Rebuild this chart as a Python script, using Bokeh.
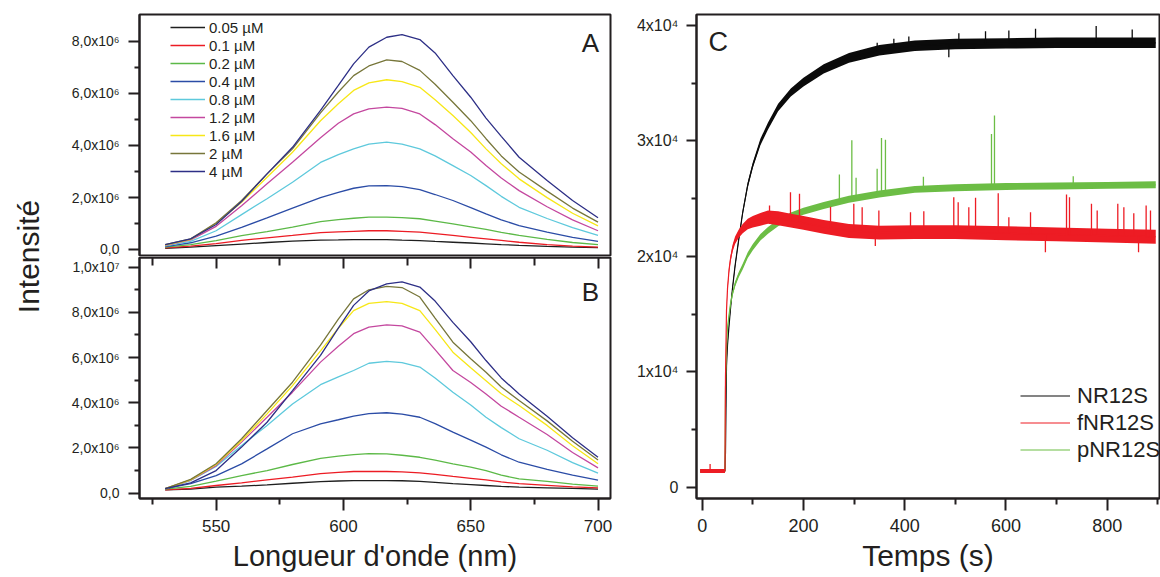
import numpy as np
from bokeh.plotting import figure
from bokeh.models import Range1d, FixedTicker, LinearAxis, Legend, LegendItem, Label
from bokeh.layouts import row, column
from bokeh.embed import file_html
from bokeh.resources import INLINE

FONT = "Liberation Sans"
INK = "#231f20"

# ---------------- data: emission spectra (intensity in units of 1e6) ----------------
concentrations = ["0.05 µM", "0.1 µM", "0.2 µM", "0.4 µM", "0.8 µM", "1.2 µM", "1.6 µM", "2 µM", "4 µM"]
wavelength_nm = [530, 540, 550, 560, 570, 580, 591, 598, 604, 610, 617, 623, 630, 636, 643, 650, 656, 662, 669, 680, 690, 700]

a_005 = [0.06, 0.10, 0.16, 0.22, 0.28, 0.33, 0.37, 0.38, 0.39, 0.39, 0.39, 0.37, 0.35, 0.32, 0.29, 0.26, 0.23, 0.20, 0.17, 0.13, 0.10, 0.08]
a_01 = [0.07, 0.14, 0.24, 0.36, 0.46, 0.55, 0.66, 0.69, 0.71, 0.73, 0.73, 0.71, 0.68, 0.62, 0.55, 0.48, 0.42, 0.36, 0.29, 0.20, 0.14, 0.10]
a_02 = [0.10, 0.20, 0.35, 0.54, 0.70, 0.87, 1.08, 1.16, 1.21, 1.25, 1.25, 1.23, 1.19, 1.10, 0.99, 0.88, 0.78, 0.67, 0.55, 0.40, 0.28, 0.20]
a_04 = [0.12, 0.27, 0.52, 0.86, 1.22, 1.60, 2.00, 2.20, 2.36, 2.45, 2.46, 2.42, 2.31, 2.12, 1.89, 1.62, 1.38, 1.15, 0.93, 0.68, 0.48, 0.32]
a_08 = [0.15, 0.32, 0.73, 1.35, 1.96, 2.59, 3.35, 3.65, 3.87, 4.05, 4.13, 4.05, 3.87, 3.60, 3.23, 2.85, 2.46, 2.05, 1.63, 1.20, 0.85, 0.55]
a_12 = [0.17, 0.38, 0.90, 1.69, 2.53, 3.36, 4.30, 4.85, 5.21, 5.40, 5.47, 5.42, 5.21, 4.80, 4.26, 3.75, 3.23, 2.75, 2.27, 1.65, 1.15, 0.73]
a_16 = [0.18, 0.40, 1.02, 1.82, 2.78, 3.74, 4.95, 5.60, 6.11, 6.40, 6.52, 6.45, 6.23, 5.75, 5.15, 4.50, 3.87, 3.30, 2.72, 2.00, 1.40, 0.92]
a_2 = [0.20, 0.42, 1.04, 1.89, 2.91, 3.87, 5.25, 6.05, 6.68, 7.05, 7.28, 7.22, 6.88, 6.35, 5.66, 4.95, 4.26, 3.60, 2.98, 2.25, 1.60, 1.06]
a_4 = [0.20, 0.42, 0.97, 1.85, 2.91, 3.93, 5.35, 6.30, 7.13, 7.77, 8.15, 8.25, 8.06, 7.55, 6.68, 5.85, 5.05, 4.35, 3.55, 2.66, 1.89, 1.23]

b_005 = [0.15, 0.18, 0.27, 0.31, 0.37, 0.44, 0.51, 0.54, 0.56, 0.56, 0.56, 0.55, 0.52, 0.48, 0.42, 0.38, 0.34, 0.30, 0.27, 0.24, 0.21, 0.18]
b_01 = [0.15, 0.21, 0.34, 0.46, 0.59, 0.71, 0.87, 0.92, 0.96, 0.97, 0.96, 0.94, 0.90, 0.83, 0.74, 0.66, 0.59, 0.50, 0.42, 0.35, 0.28, 0.24]
b_02 = [0.18, 0.30, 0.53, 0.78, 1.00, 1.27, 1.54, 1.64, 1.71, 1.75, 1.74, 1.68, 1.59, 1.46, 1.30, 1.15, 1.00, 0.80, 0.63, 0.52, 0.40, 0.31]
b_04 = [0.20, 0.42, 0.78, 1.30, 1.96, 2.63, 3.07, 3.25, 3.41, 3.52, 3.56, 3.50, 3.36, 3.08, 2.70, 2.35, 2.04, 1.70, 1.37, 1.05, 0.80, 0.58]
b_08 = [0.20, 0.56, 1.18, 2.11, 3.00, 3.95, 4.80, 5.15, 5.43, 5.75, 5.83, 5.78, 5.58, 5.10, 4.47, 3.90, 3.36, 2.90, 2.41, 1.90, 1.35, 0.89]
b_12 = [0.20, 0.58, 1.22, 2.26, 3.36, 4.47, 5.80, 6.50, 7.06, 7.35, 7.45, 7.40, 7.13, 6.35, 5.43, 4.90, 4.39, 3.85, 3.36, 2.60, 1.80, 1.12]
b_16 = [0.20, 0.59, 1.27, 2.33, 3.51, 4.76, 6.30, 7.30, 8.08, 8.40, 8.48, 8.40, 8.08, 7.25, 6.24, 5.55, 4.98, 4.40, 3.88, 3.00, 2.10, 1.30]
b_2 = [0.20, 0.61, 1.30, 2.41, 3.66, 4.91, 6.55, 7.70, 8.60, 9.00, 9.15, 9.10, 8.68, 7.75, 6.68, 5.95, 5.35, 4.70, 4.10, 3.20, 2.30, 1.47]
b_4 = [0.20, 0.46, 1.00, 2.04, 3.14, 4.54, 6.10, 7.30, 8.31, 8.95, 9.26, 9.35, 9.12, 8.50, 7.56, 6.70, 5.87, 5.10, 4.39, 3.40, 2.45, 1.59]

spec_colors = ["#1f1f1f", "#ec1c24", "#5cb947", "#2b4ca6", "#5ec9dc", "#c4489f", "#f7e717", "#77763a", "#2d2f86"]

a_ticks = [0, 2e6, 4e6, 6e6, 8e6]
a_tick_labels = ["0,0", "2,0x10⁶", "4,0x10⁶", "6,0x10⁶", "8,0x10⁶"]
b_ticks = [0, 2e6, 4e6, 6e6, 8e6, 1e7]
b_tick_labels = ["0,0", "2,0x10⁶", "4,0x10⁶", "6,0x10⁶", "8,0x10⁶", "1,0x10⁷"]
wl_ticks = [550, 600, 650, 700]

# ---------------- data: kinetics (panel C) ----------------
series_c = ["NR12S", "fNR12S", "pNR12S"]
colors_c = ["#0b0b0b", "#ed1c24", "#6cbd45"]
time_s = [-4, 45, 46, 48, 50, 53, 56, 60, 65, 72, 80, 90, 100, 115, 130, 150, 175, 200, 240, 290, 350, 420, 500, 600, 700, 800, 896]
nr12s = [1400, 1400, 3000, 10500, 12300, 14000, 15500, 17300, 19200, 21400, 23800, 26200, 27900, 29900, 31300, 32900, 34200, 35100, 36250, 37200, 37850, 38250, 38400, 38450, 38500, 38500, 38500]
fnr12s = [1400, 1400, 9500, 15300, 17200, 18800, 19800, 20700, 21400, 21950, 22400, 22800, 23000, 23200, 23400, 23300, 23100, 22900, 22550, 22200, 22050, 22100, 22100, 22000, 21900, 21800, 21700]
pnr12s = [1400, 1400, 8500, 12000, 13800, 14900, 15900, 16800, 17600, 18400, 19100, 20100, 20800, 21650, 22250, 22900, 23500, 23900, 24400, 24950, 25400, 25800, 25950, 26050, 26100, 26150, 26200]
# half-width of the noise band
nr12s_noise = [130, 130, 130, 150, 150, 150, 180, 180, 200, 200, 220, 250, 250, 280, 300, 320, 350, 380, 400, 420, 450, 450, 450, 450, 450, 450, 450]
fnr12s_noise = [180, 180, 200, 200, 220, 250, 280, 300, 330, 350, 400, 450, 500, 550, 580, 600, 600, 600, 600, 600, 600, 600, 600, 600, 600, 600, 600]
pnr12s_noise = [130, 130, 130, 150, 150, 170, 180, 200, 220, 230, 250, 250, 270, 280, 300, 300, 300, 300, 300, 300, 300, 300, 300, 300, 300, 300, 300]

# isolated spikes: time, level at foot, level at tip
nr12s_spike_t = [345.7, 378.6, 408.2, 487.2, 507, 559.7, 605.8, 658.5, 778.3, 849.5]
nr12s_spike_base = [37850, 38000, 38150, 38400, 38400, 38450, 38450, 38500, 38500, 38500]
nr12s_spike_tip = [38500, 38850, 39050, 37250, 39330, 39500, 39560, 39710, 39950, 39650]

fnr12s_spike_t = [15.6, 133, 174.4, 192.2, 253.5, 299.5, 316, 342, 349, 411.5, 437.8, 497, 505.7, 526.7, 540, 584.8, 605.8, 648.6, 678, 719.7, 725.6, 769, 780.3, 821, 833, 852.6, 862, 877, 885.6]
fnr12s_spike_base = [1400, 23400, 23100, 23000, 22500, 22200, 22150, 22050, 22050, 22100, 22100, 22100, 22100, 22100, 22050, 22000, 22000, 21950, 21900, 21900, 21900, 21850, 21850, 21800, 21800, 21800, 21750, 21750, 21750]
fnr12s_spike_tip = [2000, 24400, 25560, 25420, 24300, 24550, 24260, 20900, 23970, 23830, 23900, 25130, 24690, 24260, 25070, 25470, 23390, 23830, 20350, 25360, 25130, 24550, 23970, 24550, 24260, 23740, 20350, 24400, 23970]

pnr12s_spike_t = [271, 295.6, 304, 345.6, 354.2, 362, 437, 571.5, 577.4, 733]
pnr12s_spike_base = [24800, 25000, 25050, 25400, 25450, 25500, 25850, 26000, 26000, 26100]
pnr12s_spike_tip = [27100, 30050, 26800, 27600, 30250, 30100, 26900, 30600, 32200, 26950]

c_y_ticks = [0, 10000, 20000, 30000, 40000]
c_y_tick_labels = ["0", "1x10⁴", "2x10⁴", "3x10⁴", "4x10⁴"]
c_x_ticks = [0, 200, 400, 600, 800]

# ---------------- helpers ----------------
def style_axis(ax, size):
    ax.axis_line_color = INK
    ax.axis_line_width = 2
    ax.major_tick_line_color = INK
    ax.major_tick_line_width = 2
    ax.minor_tick_line_color = INK
    ax.minor_tick_line_width = 2
    ax.major_label_text_font = FONT
    ax.major_label_text_color = INK
    ax.major_label_text_font_size = size
    ax.axis_label_text_font = FONT
    ax.axis_label_text_color = INK
    ax.axis_label_text_font_style = "normal"


def base_fig(**kw):
    p = figure(output_backend="svg", toolbar_location=None, **kw)
    p.grid.visible = False
    p.outline_line_color = INK
    p.outline_line_width = 2
    p.outline_line_alpha = 1
    p.background_fill_color = "white"
    p.border_fill_color = "white"
    return p


xr = Range1d(519.9, 704.9)

# ---------------- panel A ----------------
pa = base_fig(width=572, height=256, x_range=xr, y_range=Range1d(-0.2186e6, 9.022e6),
              x_axis_location=None, min_border_left=91, min_border_right=10,
              min_border_top=14, min_border_bottom=1)
ya = pa.yaxis[0]
ya.ticker = FixedTicker(ticks=a_ticks, minor_ticks=[1e6, 3e6, 5e6, 7e6])
ya.major_label_overrides = dict(zip(a_ticks, a_tick_labels))
style_axis(ya, "14px")
ya.major_tick_out = 11
ya.major_tick_in = 0
ya.minor_tick_out = 5
ya.minor_tick_in = 0
ya.major_label_standoff = 9

wl = np.array(wavelength_nm)
items = []
for name, vals, col in zip(concentrations, [a_005, a_01, a_02, a_04, a_08, a_12, a_16, a_2, a_4], spec_colors):
    r = pa.line(wl, np.array(vals) * 1e6, line_color=col, line_width=1.3)
    items.append(LegendItem(label=name, renderers=[r]))
leg_a = Legend(items=items, location=(31, 75))
leg_a.glyph_width = 35
leg_a.glyph_height = 18
leg_a.label_height = 18
leg_a.spacing = 0
leg_a.padding = 0
leg_a.margin = 0
leg_a.label_standoff = 4
leg_a.border_line_alpha = 0
leg_a.background_fill_alpha = 0
leg_a.label_text_font = FONT
leg_a.label_text_font_size = "15px"
leg_a.label_text_color = INK
pa.add_layout(leg_a)
pa.add_layout(Label(x=700.4, y=8.49e6, text="A", text_align="right", text_baseline="top",
                    text_font=FONT, text_font_size="26px", text_color=INK))

# ---------------- panel B ----------------
B_TOP = 10.429e6
pb = base_fig(width=572, height=321, x_range=xr, y_range=Range1d(-0.2345e6, B_TOP),
              min_border_left=91, min_border_right=10, min_border_top=1, min_border_bottom=79)
yb = pb.yaxis[0]
yb.ticker = FixedTicker(ticks=b_ticks, minor_ticks=[1e6, 3e6, 5e6, 7e6, 9e6])
yb.major_label_overrides = dict(zip(b_ticks, b_tick_labels))
style_axis(yb, "14px")
yb.major_tick_out = 11
yb.major_tick_in = 0
yb.minor_tick_out = 5
yb.minor_tick_in = 0
yb.major_label_standoff = 9

xb = pb.xaxis[0]
xb.ticker = FixedTicker(ticks=wl_ticks, minor_ticks=[525, 575, 625, 675])
style_axis(xb, "17px")
xb.major_tick_out = 12
xb.major_tick_in = 0
xb.minor_tick_out = 6
xb.minor_tick_in = 0
xb.major_label_standoff = 9
xb.axis_label = "Longueur d'onde (nm)"
xb.axis_label_text_font_size = "29px"
xb.axis_label_standoff = 5

top_ticks = LinearAxis(ticker=FixedTicker(ticks=wl_ticks, minor_ticks=[525, 575, 625, 675]),
                       fixed_location=B_TOP)
style_axis(top_ticks, "0px")
top_ticks.major_tick_in = 11
top_ticks.major_tick_out = 0
top_ticks.minor_tick_in = 8
top_ticks.minor_tick_out = 0
top_ticks.major_label_text_alpha = 0
pb.add_layout(top_ticks, "above")

for vals, col in zip([b_005, b_01, b_02, b_04, b_08, b_12, b_16, b_2, b_4], spec_colors):
    pb.line(wl, np.array(vals) * 1e6, line_color=col, line_width=1.3)
pb.add_layout(Label(x=700.4, y=9.56e6, text="B", text_align="right", text_baseline="top",
                    text_font=FONT, text_font_size="26px", text_color=INK))

# ---------------- panel C ----------------
pc = base_fig(width=540, height=577, x_range=Range1d(-11.26, 903.4), y_range=Range1d(-979, 40953),
              min_border_left=76, min_border_right=1, min_border_top=14, min_border_bottom=79)
yc = pc.yaxis[0]
yc.ticker = FixedTicker(ticks=c_y_ticks, minor_ticks=[5000, 15000, 25000, 35000])
yc.major_label_overrides = dict(zip(c_y_ticks, c_y_tick_labels))
style_axis(yc, "16px")
yc.major_tick_out = 10
yc.major_tick_in = 0
yc.minor_tick_out = 5
yc.minor_tick_in = 0
yc.major_label_standoff = 8

xc = pc.xaxis[0]
xc.ticker = FixedTicker(ticks=c_x_ticks, minor_ticks=[100, 300, 500, 700, 900])
style_axis(xc, "18px")
xc.major_tick_out = 12
xc.major_tick_in = 0
xc.minor_tick_out = 6
xc.minor_tick_in = 0
xc.major_label_standoff = 8
xc.axis_label = "Temps (s)"
xc.axis_label_text_font_size = "30px"
xc.axis_label_standoff = 4

t = np.array(time_s)
traces = [
    (nr12s, nr12s_noise, nr12s_spike_t, nr12s_spike_base, nr12s_spike_tip),
    (fnr12s, fnr12s_noise, fnr12s_spike_t, fnr12s_spike_base, fnr12s_spike_tip),
    (pnr12s, pnr12s_noise, pnr12s_spike_t, pnr12s_spike_base, pnr12s_spike_tip),
]
renderers_c = {}
for idx in [0, 2, 1]:
    mean, noise, st, sb, stip = traces[idx]
    col = colors_c[idx]
    m = np.array(mean, dtype=float)
    n = np.array(noise, dtype=float)
    pc.varea(x=t, y1=m - n, y2=m + n, fill_color=col, fill_alpha=1)
    r = pc.line(t, m, line_color=col, line_width=1.2)
    pc.segment(x0=st, y0=sb, x1=st, y1=stip, line_color=col, line_width=1.3)
    renderers_c[idx] = r
c_items = [LegendItem(label=series_c[i], renderers=[renderers_c[i]]) for i in range(3)]
leg_c = Legend(items=c_items, location=(324, 35))
leg_c.glyph_width = 50
leg_c.glyph_height = 27
leg_c.label_height = 27
leg_c.spacing = 0
leg_c.padding = 0
leg_c.margin = 0
leg_c.label_standoff = 7
leg_c.border_line_alpha = 0
leg_c.background_fill_alpha = 0
leg_c.label_text_font = FONT
leg_c.label_text_font_size = "22px"
leg_c.label_text_color = INK
pc.add_layout(leg_c)
pc.add_layout(Label(x=12.4, y=39870, text="C", text_align="left", text_baseline="top",
                    text_font=FONT, text_font_size="27px", text_color=INK))

# ---------------- shared y label (as an axis title) ----------------
pl = figure(width=48, height=577, x_range=Range1d(0, 1), y_range=Range1d(0, 1),
            output_backend="svg", toolbar_location=None, x_axis_location=None,
            min_border_left=44, min_border_right=0, min_border_top=14, min_border_bottom=75)
pl.grid.visible = False
pl.outline_line_color = None
yl = pl.yaxis[0]
yl.ticker = FixedTicker(ticks=[])
yl.axis_line_alpha = 0
yl.major_tick_out = 0
yl.major_tick_in = 0
yl.minor_tick_out = 0
yl.minor_tick_in = 0
yl.major_label_text_font_size = "0px"
yl.major_label_standoff = 0
yl.axis_label = "Intensité"
yl.axis_label_text_font = FONT
yl.axis_label_text_font_size = "30px"
yl.axis_label_text_font_style = "normal"
yl.axis_label_text_color = INK
yl.axis_label_standoff = 0

layout = row(pl, column(pa, pb), pc)
open("out.html", "w").write(file_html(layout, INLINE))
